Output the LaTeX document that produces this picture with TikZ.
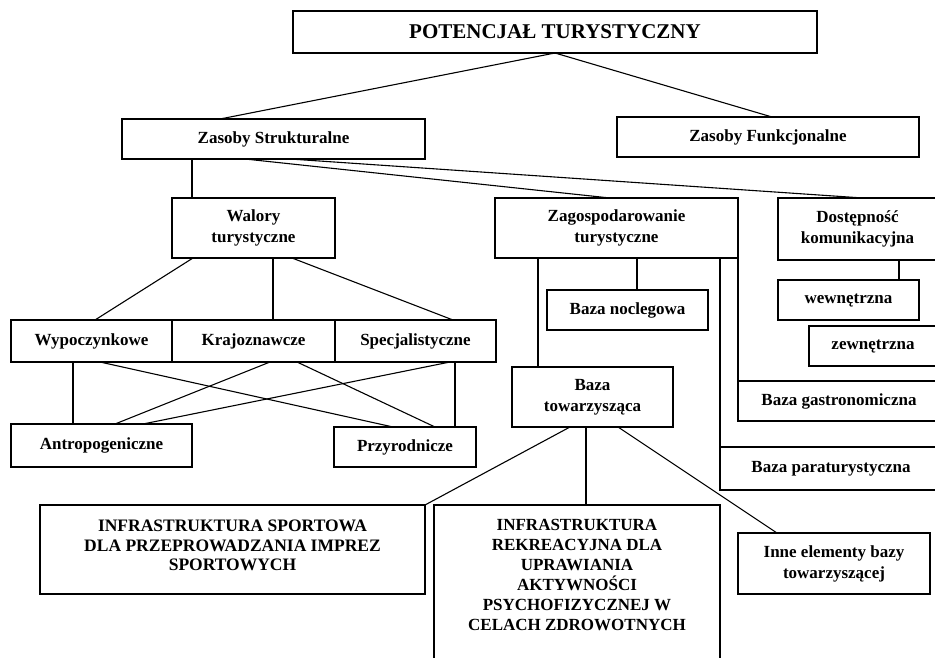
\documentclass[tikz,border=0pt]{standalone}
\usepackage{fontspec}
\setmainfont{Liberation Serif}
\usetikzlibrary{calc}
\tikzset{
  box/.style={draw, line width=1.4pt, inner sep=0pt, outer sep=0pt, align=center,
    font=\fontsize{17}{21}\selectfont\bfseries},
  capsfont/.style={font=\fontsize{17.5}{19.5}\selectfont\bfseries},
  conn/.style={line width=1.1pt},
}
\begin{document}
\begin{tikzpicture}[x=1pt,y=-1pt]
\useasboundingbox (0,0) rectangle (935,658);
\clip (0,0) rectangle (935,658);
\fill[white] (0,0) rectangle (935,658);

% nodes
\node[box, minimum width=524, minimum height=42, font=\fontsize{21}{24}\selectfont\bfseries] (title) at (555,32) {POTENCJAŁ TURYSTYCZNY};
\node[box, minimum width=303, minimum height=40] (ZS) at (273.5,139) {Zasoby Strukturalne};
\node[box, minimum width=302, minimum height=40] (ZF) at (768,137) {Zasoby Funkcjonalne};

\node[box, minimum width=163, minimum height=60] (Wal) at (253.5,228) {Walory\\turystyczne};
\node[box, minimum width=243, minimum height=60] (Zag) at (616.5,228) {Zagospodarowanie\\turystyczne};
\node[box, minimum width=159, minimum height=62] (Dost) at (857.5,229) {Dostępność\\komunikacyjna};

\node[box, minimum width=141, minimum height=40] (wew) at (848.5,300) {wewnętrzna};
\node[box, minimum width=128, minimum height=40] (zew) at (873,346) {zewnętrzna};
\node[box, minimum width=161, minimum height=40] (BN) at (627.5,310) {Baza noclegowa};
\node[box, minimum width=202, minimum height=40] (BG) at (839,401) {Baza gastronomiczna};
\node[box, minimum width=222, minimum height=43] (BP) at (831,468.5) {Baza paraturystyczna};
\node[box, minimum width=161, minimum height=60] (BT) at (592.5,397) {Baza\\towarzysząca};

\node[box, minimum width=161, minimum height=42] (Wyp) at (91.5,341) {Wypoczynkowe};
\node[box, minimum width=163, minimum height=42] (Kraj) at (253.5,341) {Krajoznawcze};
\node[box, minimum width=161, minimum height=42] (Spec) at (415.5,341) {Specjalistyczne};

\node[box, minimum width=181, minimum height=43] (Antr) at (101.5,445.5) {Antropogeniczne};
\node[box, minimum width=142, minimum height=40] (Przyr) at (405,447) {Przyrodnicze};

\node[box, capsfont] (InfS) at (232.5,549.5) {\parbox[c][89pt][t]{385pt}{\centering\vspace*{15pt}INFRASTRUKTURA SPORTOWA\\DLA PRZEPROWADZANIA IMPREZ\\SPORTOWYCH}};
\node[box, font=\fontsize{17}{20}\selectfont\bfseries] (InfR) at (577,592.5) {\parbox[c][175pt][t]{286pt}{\centering\vspace*{14pt}INFRASTRUKTURA\\REKREACYJNA DLA\\UPRAWIANIA\\AKTYWNOŚCI\\PSYCHOFIZYCZNEJ W\\CELACH ZDROWOTNYCH}};
\node[box, minimum width=192, minimum height=61] (Inne) at (834,563.5) {Inne elementy bazy\\towarzyszącej};

% connectors
\draw[conn] (title.south) -- ([xshift=98pt]ZS.north west);
\draw[conn] (title.south) -- ([xshift=155pt]ZF.north west);

\draw[conn] ([xshift=20pt]Wal.north west) -- ([xshift=20pt]Wal.north west |- ZS.south);
\draw[conn] ([xshift=123pt]ZS.south west) -- ([xshift=115pt]Zag.north west);
\draw[conn] ([xshift=168pt]ZS.south west) -- ([xshift=85pt]Dost.north west);

\draw[conn] ([xshift=21pt]Wal.south west) -- ([xshift=84pt]Wyp.north west);
\draw[conn] ([xshift=101pt]Wal.south west) -- ([xshift=101pt]Wal.south west |- Kraj.north);
\draw[conn] ([xshift=120pt]Wal.south west) -- ([xshift=118pt]Spec.north west);

\draw[conn] ([xshift=62pt]Wyp.south west) -- ([xshift=62pt]Wyp.south west |- Antr.north);
\draw[conn] ([xshift=120pt]Spec.south west) -- ([xshift=120pt]Spec.south west |- Przyr.north);
\draw[conn] ([xshift=89pt]Wyp.south west) -- ([xshift=59pt]Przyr.north west);
\draw[conn] ([xshift=98pt]Kraj.south west) -- ([xshift=104pt]Antr.north west);
\draw[conn] ([xshift=125pt]Kraj.south west) -- ([xshift=101pt]Przyr.north west);
\draw[conn] ([xshift=115pt]Spec.south west) -- ([xshift=132pt]Antr.north west);

\draw[conn] ([xshift=43pt]Zag.south west) -- ([xshift=43pt]Zag.south west |- BT.north);
\draw[conn] ([xshift=142pt]Zag.south west) -- ([xshift=142pt]Zag.south west |- BN.north);
\draw[conn] (BP.north west |- Zag.south) -- (BP.north west);
\draw[conn] (Zag.south east) -- (BG.north west);

\draw[conn] ([xshift=121pt]wew.north west) -- ([xshift=121pt]wew.north west |- Dost.south);

\draw[conn] ([xshift=58pt]BT.south west) -- (InfS.north east);
\draw[conn] ([xshift=74pt]BT.south west) -- ([xshift=74pt]BT.south west |- InfR.north);
\draw[conn] ([xshift=106pt]BT.south west) -- ([xshift=39pt]Inne.north west);
\end{tikzpicture}
\end{document}
